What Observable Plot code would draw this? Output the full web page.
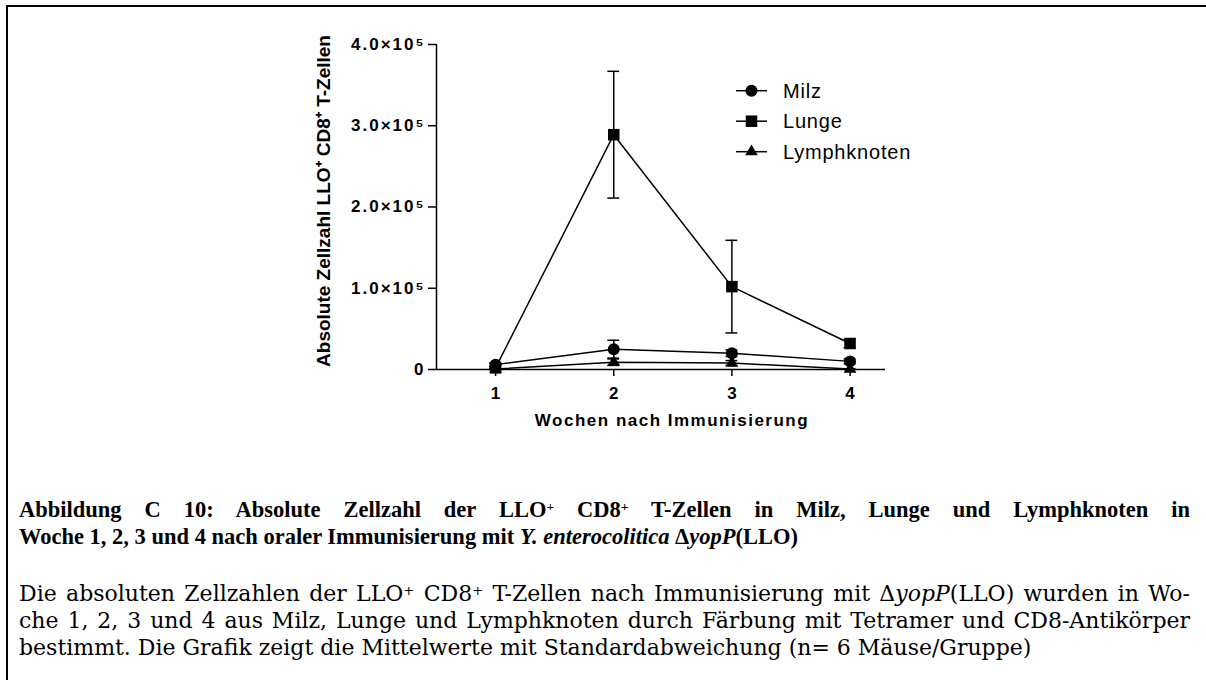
<!DOCTYPE html>
<html><head><meta charset="utf-8">
<script src="https://cdn.jsdelivr.net/npm/d3@7"></script>
<script src="https://cdn.jsdelivr.net/npm/@observablehq/plot@0.6"></script>
<style>
html,body{margin:0;padding:0;overflow:hidden;}
body{background:#fff;width:1206px;height:680px;position:relative;}
#frame{position:absolute;left:6px;top:5px;width:1200px;height:675px;border-top:2.5px solid #000;border-left:2.5px solid #000;box-sizing:border-box;}
#chart{position:absolute;left:0;top:0;}
#legend{position:absolute;left:0;top:0;}
g[aria-label="y-axis tick label"]{letter-spacing:2px;}
.cap{position:absolute;left:19px;width:1171px;line-height:27px;color:#000;}
.cap div{white-space:nowrap;}
.j{text-align:justify;text-align-last:justify;}
.b{font-family:"Liberation Serif","Times New Roman",serif;font-weight:bold;font-size:22.5px;}
.r{font-family:"DejaVu Serif",serif;font-size:22px;}
sup{font-size:60%;vertical-align:0.45em;line-height:0;}
</style>
</head><body>
<div id="frame"></div>
<div id="chart"></div>
<div id="legend"></div>
<div class="cap b" style="top:496px;">
  <div class="j">Abbildung C 10: Absolute Zellzahl der LLO<sup>+</sup> CD8<sup>+</sup> T-Zellen in Milz, Lunge und Lymphknoten in</div>
  <div>Woche 1, 2, 3 und 4 nach oraler Immunisierung mit <i>Y. enterocolitica</i> Δ<i>yopP</i>(LLO)</div>
</div>
<div class="cap r" style="top:580px;">
  <div class="j">Die absoluten Zellzahlen der LLO<sup>+</sup> CD8<sup>+</sup> T-Zellen nach Immunisierung mit Δ<i>yopP</i>(LLO) wurden in Wo-</div>
  <div class="j">che 1, 2, 3 und 4 aus Milz, Lunge und Lymphknoten durch Färbung mit Tetramer und CD8-Antikörper</div>
  <div>bestimmt. Die Grafik zeigt die Mittelwerte mit Standardabweichung (n= 6 Mäuse/Gruppe)</div>
</div>
<script>
// ---- data ----
const weeks = [1, 2, 3, 4];
const seriesNames = ["Milz", "Lunge", "Lymphknoten"];
const milz = [6000, 25000, 20000, 10000];
const milzSD = [2000, 11000, 4000, 3000];
const lunge = [2000, 289000, 102000, 32000];
const lungeSD = [1000, 78000, 57000, 5000];
const lymph = [500, 9000, 8000, 500];
const lymphSD = [300, 4000, 3000, 300];
const yTicks = [0, 100000, 200000, 300000, 400000];
const xTicks = [1, 2, 3, 4];
const xTitle = "Wochen nach Immunisierung";
const yTitle = "Absolute Zellzahl LLO\u207A CD8\u207A T-Zellen";

const symbols = {Milz: "circle", Lunge: "square", Lymphknoten: "triangle"};
const radii = {Milz: 6, Lunge: 6.5, Lymphknoten: 4.7};

const rows = [];
[[milz, milzSD], [lunge, lungeSD], [lymph, lymphSD]].forEach(([vals, sds], s) => {
  weeks.forEach((w, i) => rows.push({series: seriesNames[s], week: w, v: vals[i], sd: sds[i]}));
});

const fmt = d => d === 0 ? "0" : (d / 1e5).toFixed(1) + "\u00D710\u2075";
const capHalf = 0.05;

const dotMarks = seriesNames.map(s => Plot.dot(rows.filter(r => r.series === s), {
  x: "week", y: "v", symbol: () => symbols[s], r: radii[s], fill: "black", stroke: "none"
}));

const chart = Plot.plot({
  width: 1206,
  height: 450,
  marginLeft: 436,
  marginRight: 321,
  marginTop: 44,
  marginBottom: 81,
  style: {fontFamily: "'Liberation Sans', Arial, sans-serif", fontSize: "17px", fontWeight: "bold", background: "transparent", overflow: "visible"},
  x: {domain: [0.5, 4.3]},
  y: {domain: [0, 400000]},
  symbol: {type: "identity"},
  marks: [
    Plot.axisY({ticks: yTicks, tickFormat: fmt, tickSize: 8, tickPadding: 3, strokeWidth: 1.5, label: null, fontWeight: "bold", fontSize: 17}),
    Plot.axisX({ticks: xTicks, tickFormat: d => String(d), tickSize: 7, tickPadding: 10, strokeWidth: 1.5, label: null, fontWeight: "bold", fontSize: 17}),
    Plot.ruleX([0.5], {y1: 0, y2: 400000, strokeWidth: 1.5}),
    Plot.ruleY([0], {strokeWidth: 1.5}),
    Plot.ruleX(rows, {x: "week", y1: d => d.v - d.sd, y2: d => d.v + d.sd, strokeWidth: 1.5}),
    Plot.ruleY(rows, {y: d => d.v + d.sd, x1: d => d.week - capHalf, x2: d => d.week + capHalf, strokeWidth: 1.5}),
    Plot.ruleY(rows, {y: d => d.v - d.sd, x1: d => d.week - capHalf, x2: d => d.week + capHalf, strokeWidth: 1.5}),
    Plot.line(rows, {x: "week", y: "v", z: "series", stroke: "black", strokeWidth: 1.5}),
    ...dotMarks,
    Plot.text([xTitle], {text: d => d, frameAnchor: "bottom", dy: 56, dx: 11, fontWeight: "bold", fontSize: 17}),
    Plot.text([yTitle], {text: d => d, frameAnchor: "left", textAnchor: "middle", dx: -113, dy: -6, rotate: -90, fontWeight: "bold", fontSize: 19})
  ]
});
document.getElementById("chart").appendChild(chart);
d3.select(chart).selectAll("text").filter(function(){ return this.textContent === xTitle; }).style("letter-spacing", "1.5px");

// ---- legend ----
const lg = d3.select("#legend").append("svg").attr("width", 1206).attr("height", 200)
  .style("font-family", "'Liberation Sans', Arial, sans-serif");
const legendTop = 90.7, legendStep = 30.5;
const symMap = {circle: d3.symbolCircle, square: d3.symbolSquare, triangle: d3.symbolTriangle};
seriesNames.forEach((s, i) => {
  const g = lg.append("g").attr("transform", `translate(736,${legendTop + i * legendStep})`);
  g.append("line").attr("x1", 0).attr("x2", 31).attr("stroke", "black").attr("stroke-width", 1.5);
  g.append("path").attr("transform", "translate(15.5,0)")
    .attr("d", d3.symbol(symMap[symbols[s]], radii[s] * radii[s] * Math.PI)());
  g.append("text").attr("x", 47).attr("dy", "0.35em").attr("font-size", 20)
    .style("letter-spacing", "0.8px").text(s);
});
</script>
</body></html>
